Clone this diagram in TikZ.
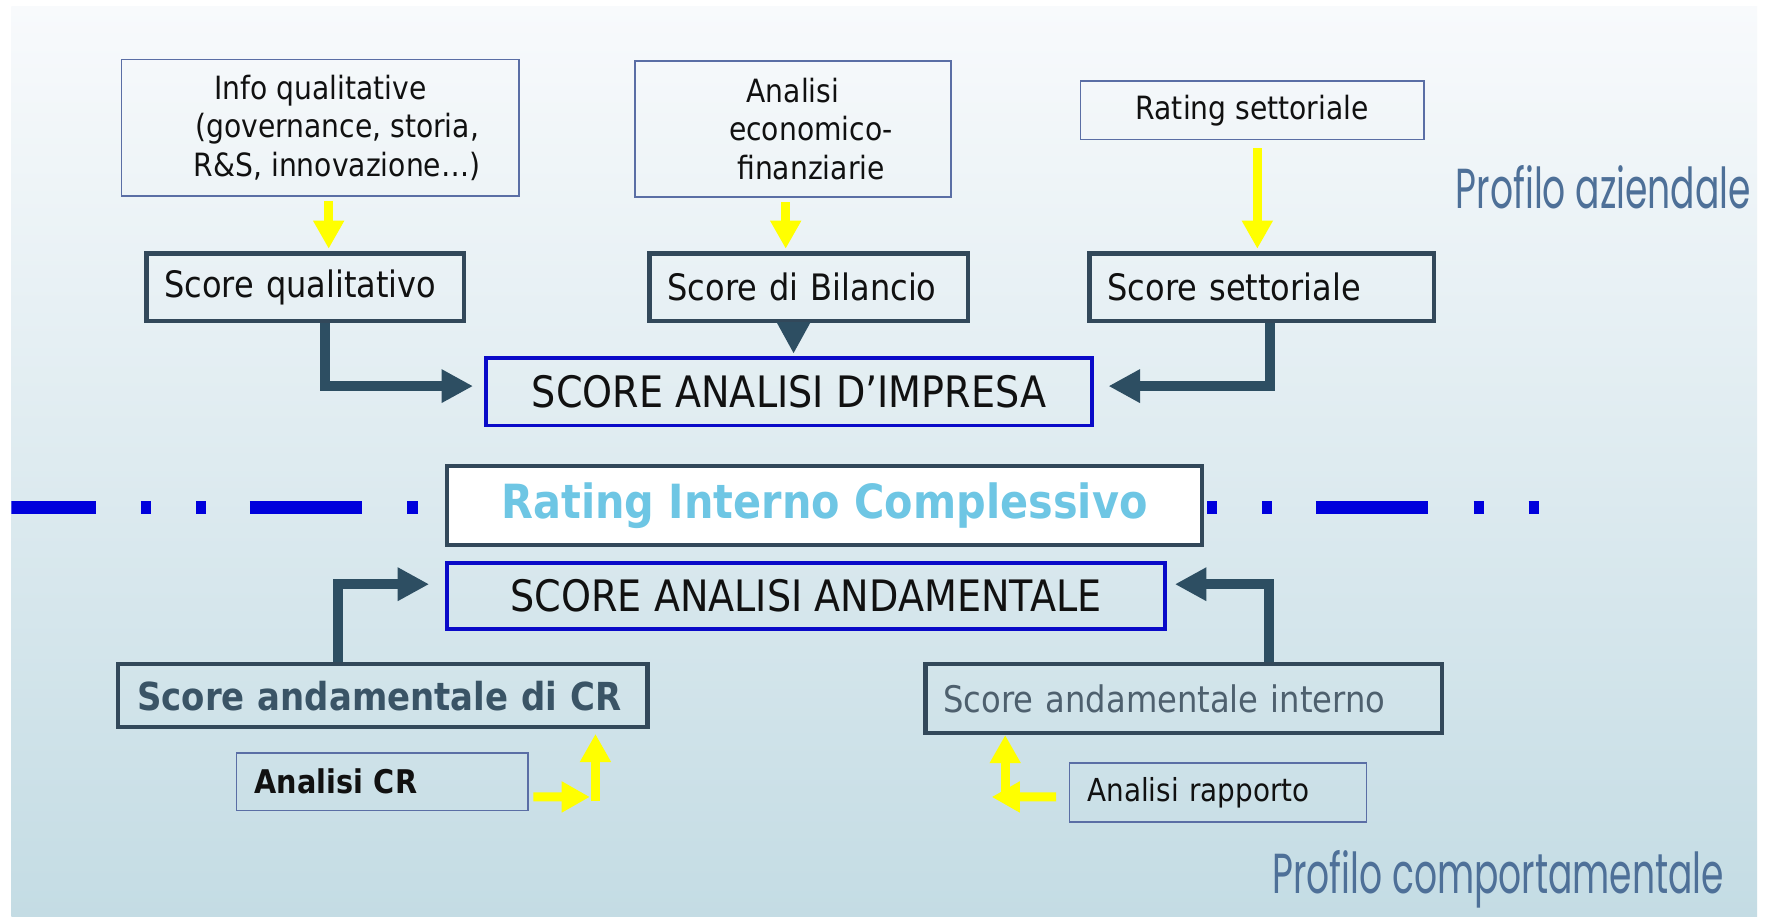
\documentclass[tikz,border=0pt]{standalone}
\usepackage{fontspec}
\setmainfont{DejaVu Sans}[FakeStretch=0.88]
\newfontfamily\proffont{Poppins}[FakeStretch=0.64]
\usetikzlibrary{arrows.meta}
\definecolor{bgtop}{RGB}{248,250,252}
\definecolor{bgmid}{RGB}{228,237,242}
\definecolor{bgbot}{RGB}{196,220,228}
\definecolor{cdark}{RGB}{50,72,90}
\definecolor{cdarkarr}{RGB}{45,78,98}
\definecolor{cblue}{RGB}{10,10,200}
\definecolor{cthin}{RGB}{90,110,165}
\definecolor{cdash}{RGB}{0,0,220}
\definecolor{cratingtxt}{RGB}{110,198,228}
\definecolor{cproftxt}{RGB}{78,112,152}
\definecolor{ccrtxt}{RGB}{58,84,102}
\definecolor{cintxt}{RGB}{78,96,110}
\definecolor{cyel}{RGB}{255,255,0}
\definecolor{ctxt}{RGB}{17,17,17}
\begin{document}
\begin{tikzpicture}[x=0.2mm, y=-0.2mm,
  tbox/.style={draw=cthin, line width=0.3mm, inner sep=0pt, text=ctxt},
  dbox/.style={draw=cdark, line width=0.8mm, inner sep=0pt, text=ctxt},
  bbox/.style={draw=cblue, line width=0.7mm, inner sep=0pt, text=ctxt},
  lbox/.style={align=left, inner xsep=3.2mm, inner ysep=0pt},
  darr/.style={draw=cdarkarr, line width=1.8mm, line join=miter,
    -{Triangle[length=5.6mm, width=5.6mm]}},
  yarr/.style={draw=cyel, line width=1.6mm, line join=miter,
    -{Triangle[length=5mm, width=5.2mm]}},
  f16/.style={font=\fontsize{16.2}{19.6}\selectfont},
  f18/.style={font=\fontsize{18.4}{22}\selectfont},
  fcaps/.style={font=\fontsize{21.9}{26}\selectfont},
  prof/.style={anchor=base west, inner sep=0pt, text=cproftxt,
    font=\proffont\fontsize{28.5}{34}\selectfont}
]
\useasboundingbox (0,0) rectangle (1568,814);
\fill[white] (0,0) rectangle (1568,814);
\shade[top color=bgtop, middle color=bgmid, bottom color=bgbot] (10,6) rectangle (1561,814);

% dash-dot separator
\coordinate (dl) at (-14.75,451);
\coordinate (dr) at (1371,451);
\begin{scope}
\clip (10,6) rectangle (1561,814);
\draw[cdash, line width=2.4mm,
  dash pattern=on 20mm off 8mm on 1.8mm off 8mm on 1.8mm off 7.75mm] (dl) -- (dr);
\end{scope}

% top row
\node[tbox, f16, align=center, minimum width=70.6mm, minimum height=24.2mm] (info) at (284.5,113.5)
  {Info qualitative\\\hspace*{6mm}(governance, storia,\\\hspace*{6mm}R\&S, innovazione…)};
\node[tbox, f16, align=center, minimum width=56.2mm, minimum height=24.2mm] (anal) at (704.5,114.5)
  {Analisi\\\hspace*{6.4mm}economico-\\\hspace*{6.4mm}finanziarie};
\node[tbox, f16, minimum width=61mm, minimum height=10.4mm] (rset) at (1112.5,98) {Rating settoriale};

% score boxes
\node[dbox, lbox, f18, text width=50mm, minimum height=12mm] (sq) at (271,255) {Score qualitativo};
\node[dbox, lbox, f18, text width=50.2mm, minimum height=12mm] (sb) at (718.5,255) {Score di Bilancio};
\node[dbox, lbox, f18, text width=54.8mm, minimum height=12mm] (ss) at (1121,255) {Score settoriale};

\node[bbox, fcaps, minimum width=107.6mm, minimum height=12mm] (imp) at (701,348) {SCORE ANALISI D’IMPRESA};

\node[dbox, fill=white, minimum width=134.2mm, minimum height=14mm, text=cratingtxt,
  font=\bfseries\fontsize{23.8}{28}\selectfont] (rint) at (732.5,449) {Rating Interno Complessivo};

\node[bbox, fcaps, minimum width=127.6mm, minimum height=11.8mm] (andm) at (716,529.5) {SCORE ANALISI ANDAMENTALE};

\node[dbox, lbox, inner xsep=3.4mm, text width=87.2mm, minimum height=11.2mm, text=ccrtxt,
  font=\bfseries\fontsize{19.5}{23}\selectfont] (scr) at (340,618) {Score andamentale di CR};
\node[dbox, lbox, text width=85.4mm, minimum height=12.2mm, text=cintxt,
  font=\fontsize{18.5}{22}\selectfont] (sai) at (1051.5,620.5) {Score andamentale interno};

\node[tbox, lbox, text width=45.4mm, minimum height=10.2mm,
  font=\bfseries\fontsize{16.5}{20}\selectfont] (acr) at (339.5,694.5) {Analisi CR};
\node[tbox, lbox, text width=46.4mm, minimum height=10.4mm,
  font=\fontsize{16}{19}\selectfont] (arap) at (1082,704) {Analisi rapporto};

% profile labels
\node[prof] (pa) at (1293,185) {Profilo aziendale};
\node[prof] (pc) at (1130,794) {Profilo comportamentale};

% yellow arrows (top)
\draw[yarr] ([xshift=1.5mm,yshift=-0.8mm]info.south) -- ([xshift=1.5mm,yshift=0.4mm]info.south |- sq.north);
\draw[yarr] ([xshift=-1.3mm,yshift=-0.8mm]anal.south) -- ([xshift=-1.3mm,yshift=0.4mm]anal.south |- sb.north);
\draw[yarr] ([xshift=0.9mm,yshift=-1.4mm]rset.south) -- ([xshift=0.9mm,yshift=0.4mm]rset.south |- ss.north);

% dark arrows
\draw[darr] ([xshift=3.6mm]sq.south) |- ([xshift=-2mm,yshift=1mm]imp.west);
\draw[darr] ([xshift=-2.7mm]sb.south) -- ([xshift=-2.7mm,yshift=0.4mm]sb.south |- imp.north);
\draw[darr] ([xshift=1.4mm]ss.south) |- ([xshift=2.6mm,yshift=1mm]imp.east);
\draw[darr] ([xshift=-8mm]scr.north) |- ([xshift=-2.8mm,yshift=2.1mm]andm.west);
\draw[darr] ([xshift=15.1mm]sai.north) |- ([xshift=1.4mm,yshift=2.1mm]andm.east);

% yellow arrows (bottom)
\coordinate (crbend) at (529,708);
\coordinate (rpbend) at (893,708);
\draw[yarr] ([xshift=0.8mm,yshift=-2.7mm]acr.east) -- ([xshift=-1mm]crbend);
\draw[yarr] ([yshift=-0.8mm]crbend) -- ([yshift=-0.8mm]crbend |- scr.south);
\draw[yarr] ([xshift=-2.2mm,yshift=-0.8mm]arap.west) -- ([xshift=-2.4mm]rpbend);
\draw[yarr] ([yshift=-0.8mm]rpbend) -- (rpbend |- sai.south);
\end{tikzpicture}
\end{document}
